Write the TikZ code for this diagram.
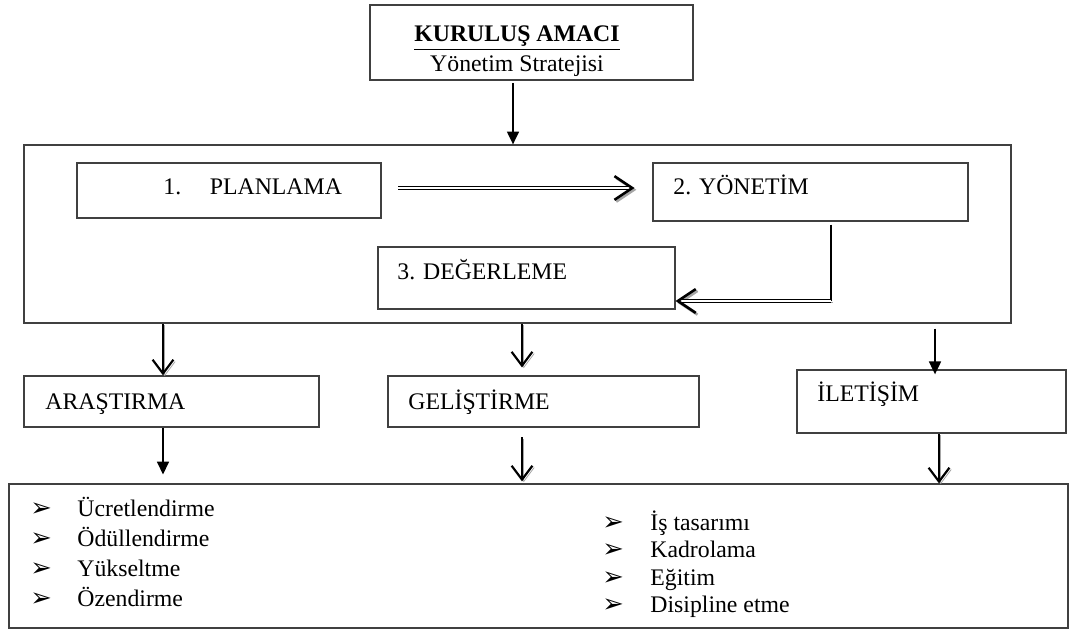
\documentclass[tikz,border=0pt]{standalone}
\usepackage{fontspec}
\setmainfont{Liberation Serif}
\newfontfamily\isaretfont{DejaVu Sans}
\usetikzlibrary{arrows.meta,fit}

\begin{document}
\begin{tikzpicture}[x=0.505pt, y=-0.505pt, font=\fontsize{12}{14}\selectfont,
    kutu/.style={draw=black!75, line width=0.6pt, inner sep=0pt, fit={#1}},
    metin/.style={anchor=base west, inner sep=0pt},
    isaret/.style={anchor=base west, inner sep=0pt, font=\isaretfont\fontsize{13}{15}\selectfont},
    golge/.style={preaction={draw=black!35, transform canvas={shift={(0.9pt,-0.9pt)}}}},
    okdolu/.style={line width=1pt, -{Triangle[length=6.5pt, width=6pt]}},
    okacik/.style={golge, line width=1.1pt, -{Straight Barb[length=7pt, width=10.5pt, line width=1.1pt]}},
    ciftok/.style={golge, double, double distance=0.6pt, line width=0.95pt,
        -{Straight Barb[length=9pt, width=12pt, line width=1.3pt]}}]
  \useasboundingbox (0,0) rectangle (1072,630);

  % Kurulus amaci
  \node[kutu={(370,5) (693,80)}] (amac) {};
  \node[anchor=base, inner sep=0pt] (amacbaslik) at (517,42) {\textbf{\underline{KURULUŞ AMACI}}};
  \node[anchor=base, inner sep=0pt] (amacalt) at (517,72) {Yönetim Stratejisi};

  % Surec cercevesi
  \node[kutu={(24,145) (1011,323)}] (surec) {};
  \node[kutu={(77,163) (381,218)}] (plan) {};
  \node[kutu={(653,163) (968,221)}] (yon) {};
  \node[kutu={(378,247) (675,309)}] (deg) {};
  \node[metin] (plant) at (163,195) {1.\hspace{14.5pt}PLANLAMA};
  \node[metin] (yont) at (673,195) {2. YÖNETİM};
  \node[metin] (degt) at (397,280) {3. DEĞERLEME};

  % Alt kutular
  \node[kutu={(24,376) (319,427)}] (ara) {};
  \node[kutu={(388,376) (699,427)}] (gel) {};
  \node[kutu={(797,370) (1066,433)}] (ile) {};
  \node[metin] (arat) at (45,410) {ARAŞTIRMA};
  \node[metin] (gelt) at (408,410) {GELİŞTİRME};
  \node[metin] (ilet) at (817,402) {İLETİŞİM};

  % Liste
  \node[kutu={(9,484) (1068,628)}] (liste) {};
  \foreach \y/\madde [count=\i] in {516/Ücretlendirme, 546/Ödüllendirme, 576/Yükseltme, 606/Özendirme} {
      \node[isaret] (solim\i) at (30,\y) {➢}; % Isaret
      \node[metin] (sol\i) at (77,\y) {\madde};
    }
  \foreach \y/\madde [count=\i] in {530/İş tasarımı, 557/Kadrolama, 585/Eğitim, 612/Disipline etme} {
      \node[isaret] (sagim\i) at (602,\y) {➢};
      \node[metin] (sag\i) at (650,\y) {\madde};
    }

  % Oklar
  \coordinate (k0) at (513,83);
  \coordinate (k1) at (398,188);
  \coordinate (k2) at (831,301);
  \draw[okdolu] (k0) -- (k0 |- surec.north);
  \draw[ciftok, shorten >=9pt] (k1) -- (k1 -| yon.west); % Planlama - Yonetim
  \draw[line width=0.6pt] ([yshift=-1.5pt]yon.south -| k2) -- (k2);
  \draw[ciftok] (k2) -- (k2 -| deg.east); % Yonetim - Degerleme

  \coordinate (x1) at (163,0);
  \coordinate (x2) at (522,0);
  \coordinate (x3) at (935,0);
  \coordinate (x4) at (939,0);
  \draw[okacik] (surec.south -| x1) -- (ara.north -| x1);
  \draw[okacik, shorten >=4pt] (surec.south -| x2) -- (gel.north -| x2);
  \draw[okdolu, shorten <=2.5pt, shorten >=-2.5pt] (surec.south -| x3) -- (ile.north -| x3);
  \draw[okdolu, shorten >=4.5pt] (ara.south -| x1) -- (liste.north -| x1);
  \draw[okacik, shorten <=5pt, shorten >=1pt] (gel.south -| x2) -- (liste.north -| x2);
  \draw[okacik] (ile.south -| x4) -- (liste.north -| x4);
\end{tikzpicture}
\end{document}
